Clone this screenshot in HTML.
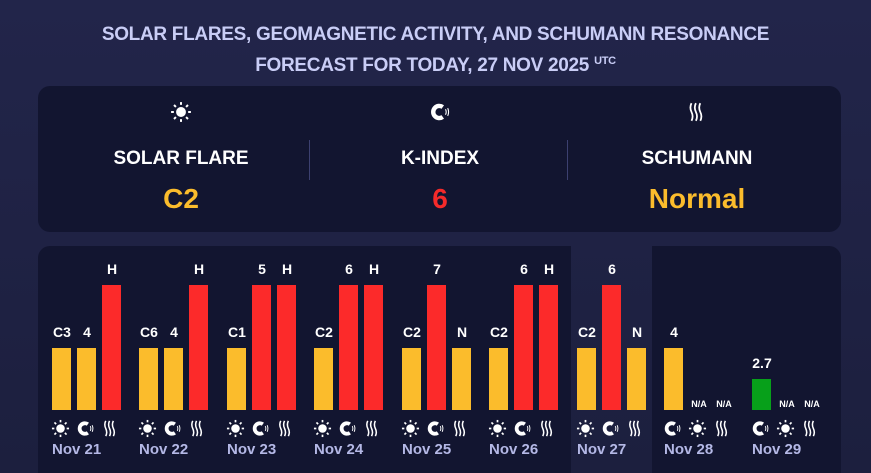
<!DOCTYPE html>
<html><head><meta charset="utf-8"><style>
html,body{margin:0;width:871px;height:473px;overflow:hidden}
body{background:linear-gradient(180deg,#22254a 0%,#1c1f3e 100%);font-family:"Liberation Sans",Arial,sans-serif;position:relative}
.a{position:absolute}
.title{left:0;width:871px;top:22px;text-align:center;color:#c9cdf6;font-weight:bold;font-size:19px;line-height:26px;letter-spacing:-0.3px}
.title sup{font-size:11px;vertical-align:7px}
.card{background:#121530;border-radius:12px}
.lbl{color:#fff;font-weight:bold;font-size:19px;text-align:center;width:260px}
.val{font-weight:bold;font-size:28px;text-align:center;width:260px}
.bar{width:19px}
.t{color:#fff;font-weight:bold;font-size:14px;text-align:center;width:40px}
.na{color:#fff;font-weight:bold;font-size:9px;text-align:center;width:30px}
.d{color:#b4b8e6;font-weight:bold;font-size:15px}
</style></head><body>
<div class="a title">SOLAR FLARES, GEOMAGNETIC ACTIVITY, AND SCHUMANN RESONANCE<br>FORECAST FOR TODAY, 27 NOV 2025 <sup>UTC</sup></div>
<div class="a card" style="left:38px;top:86px;width:803px;height:146px"></div>
<div class="a" style="left:309px;top:140px;width:1px;height:40px;background:#3c4070"></div>
<div class="a" style="left:567px;top:140px;width:1px;height:40px;background:#3c4070"></div>
<div class="a lbl" style="left:51px;top:148px">SOLAR FLARE</div>
<div class="a lbl" style="left:310px;top:148px">K-INDEX</div>
<div class="a lbl" style="left:567px;top:148px">SCHUMANN</div>
<div class="a val" style="left:51px;top:183px;color:#fbbc2c">C2</div>
<div class="a val" style="left:310px;top:183px;color:#f52a2a">6</div>
<div class="a val" style="left:567px;top:183px;color:#fbbc2c">Normal</div>
<div class="a card" style="left:38px;top:246px;width:533px;height:227px;border-radius:12px 0 0 0"></div>
<div class="a card" style="left:652px;top:246px;width:189px;height:227px;border-radius:0 12px 0 0"></div>
<div id="g"></div>
<script>
function sun(x,y,s){s=s||1;let r='<svg class="a" style="left:'+x+'px;top:'+y+'px" width="'+20*s+'" height="'+20*s+'" viewBox="0 0 20 20"><circle cx="10" cy="10" r="4.5" fill="#fff"/>';for(let i=0;i<8;i++){let a=i*Math.PI/4;r+='<line x1="'+(10+6.5*Math.cos(a))+'" y1="'+(10+6.5*Math.sin(a))+'" x2="'+(10+9*Math.cos(a))+'" y2="'+(10+9*Math.sin(a))+'" stroke="#fff" stroke-width="1.8"/>'}return r+'</svg>'}
function mag(x,y,s){s=s||1;return '<svg class="a" style="left:'+x+'px;top:'+y+'px" width="'+20*s+'" height="'+20*s+'" viewBox="0 0 20 20"><path d="M12.5 5.5 A5.5 5.5 0 1 0 12.5 14.5" stroke="#fff" stroke-width="4" fill="none"/><path d="M15 7.5 Q16.3 10 15 12.5 M17 6.5 Q18.6 10 17 13.5" stroke="#fff" stroke-width="1" fill="none"/></svg>'}
function sch(x,y,s){s=s||1;let r='<svg class="a" style="left:'+x+'px;top:'+y+'px" width="'+20*s+'" height="'+20*s+'" viewBox="0 0 20 20">';for(let i=0;i<3;i++){let o=5+i*4;r+='<path d="M'+o+' 2 q-2 4 0 8 q2 4 0 8" stroke="#fff" stroke-width="1.6" fill="none"/>'}return r+'</svg>'}
let h='';h+=sun(170,101,1.1)+mag(429,101,1.1)+sch(686,101,1.1);
const Y='#fbbc2c',R='#fc2a2a',G='#07a01a';
const days=[['Nov 21',[['C3',Y,0],['4',Y,0],['H',R,1]],'smk'],['Nov 22',[['C6',Y,0],['4',Y,0],['H',R,1]],'smk'],['Nov 23',[['C1',Y,0],['5',R,1],['H',R,1]],'smk'],['Nov 24',[['C2',Y,0],['6',R,1],['H',R,1]],'smk'],['Nov 25',[['C2',Y,0],['7',R,1],['N',Y,0]],'smk'],['Nov 26',[['C2',Y,0],['6',R,1],['H',R,1]],'smk'],['Nov 27',[['C2',Y,0],['6',R,1],['N',Y,0]],'smk'],['Nov 28',[['4',Y,0],null,null],'msk'],['Nov 29',[['2.7',G,2],null,null],'msk']];
const xs=[52,139,227,314,402,489,577,664,752];
days.forEach((d,i)=>{let x0=xs[i];d[1].forEach((b,j)=>{let x=x0+j*25;if(b){let top=b[2]==1?285:b[2]==2?379:348;h+='<div class="a bar" style="left:'+x+'px;top:'+top+'px;height:'+(410-top)+'px;background:'+b[1]+'"></div>';h+='<div class="a t" style="left:'+(x-10)+'px;top:'+(top-24)+'px">'+b[0]+'</div>'}else{h+='<div class="a na" style="left:'+(x-5)+'px;top:399px">N/A</div>'}
let k=d[2][j];h+=(k=='s'?sun:k=='m'?mag:sch)(x-1,419,0.95)});
h+='<div class="a d" style="left:'+x0+'px;top:441px">'+d[0]+'</div>'});
document.getElementById('g').innerHTML=h;
</script>
</body></html>
